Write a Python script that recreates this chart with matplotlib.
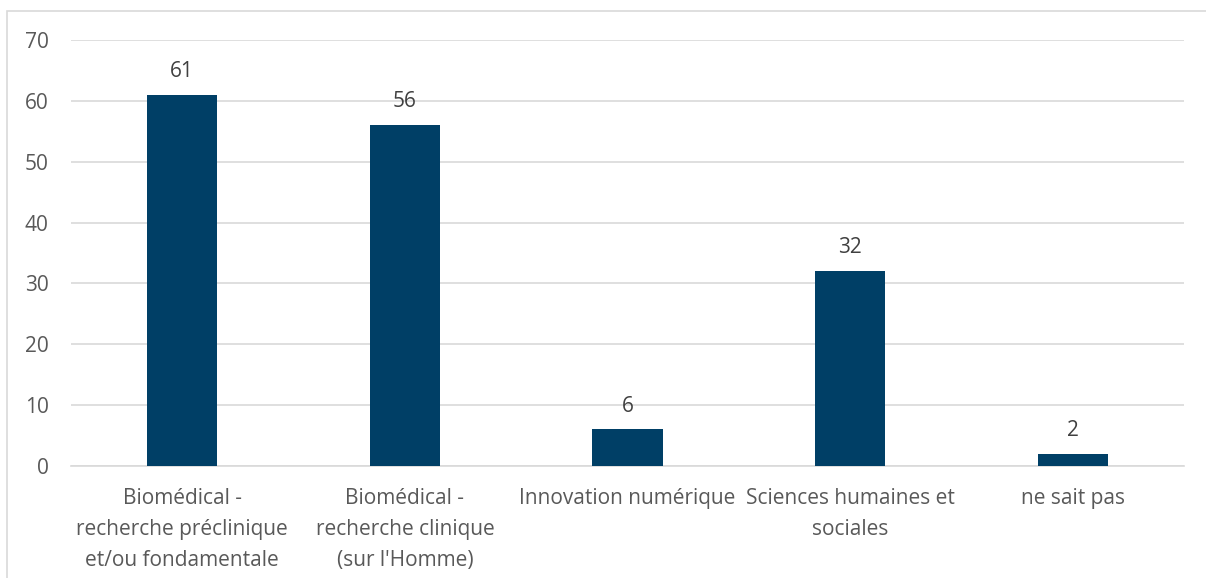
import numpy as np
import matplotlib.pyplot as plt
from matplotlib.patches import Rectangle

plt.rcParams['font.family'] = ['Open Sans', 'DejaVu Sans']

categories = ['Biomédical -\nrecherche préclinique\net/ou fondamentale',
              'Biomédical -\nrecherche clinique\n(sur l\'Homme)',
              'Innovation numérique',
              'Sciences humaines et\nsociales',
              'ne sait pas']
values = [61, 56, 6, 32, 2]
yticks = [0, 10, 20, 30, 40, 50, 60, 70]

bar_color = '#003F66'
text_color = '#595959'
grid_color = '#D9D9D9'
fs = 15

fig = plt.figure(figsize=(12.06, 5.78), dpi=100)
ax = fig.add_axes([71/1206, 1-466/578, 1113/1206, 426/578])

# chart border
fig.patches.append(Rectangle((7/1206, -0.1), 1.2, 1-11/578+0.1, transform=fig.transFigure,
                             fill=False, edgecolor=grid_color, linewidth=1.2))

x = np.arange(len(values))
bars = ax.bar(x, values, width=0.315, color=bar_color, zorder=3)
for xi, v in zip(x, values):
    ax.text(xi, v + 2.1, str(v), ha='center', va='bottom', fontsize=fs, color='#404040')

ax.set_xlim(-0.5, len(values) - 0.5)
ax.set_ylim(0, 70)
ax.set_yticks(yticks)
ax.set_xticks(x)
ax.set_xticklabels(categories, linespacing=1.63)
ax.tick_params(axis='both', length=0, labelsize=fs, colors=text_color)
ax.tick_params(axis='x', pad=15.5)
ax.tick_params(axis='y', pad=16)
ax.yaxis.grid(True, color=grid_color, linewidth=1.2, zorder=0)
for s in ['top', 'right', 'left']:
    ax.spines[s].set_visible(False)
ax.spines['bottom'].set_color(grid_color)
ax.spines['bottom'].set_linewidth(1.2)

plt.savefig('out.png', dpi=100)
